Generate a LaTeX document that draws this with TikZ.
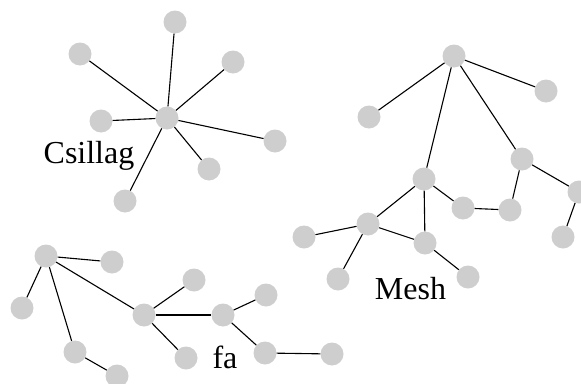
\documentclass[tikz,border=0pt]{standalone}
\usepackage{fontspec}
\setmainfont{Liberation Serif}
\definecolor{dotgray}{RGB}{207,206,207}
\begin{document}
\begin{tikzpicture}[x=1pt,y=-1pt,
  dot/.style={circle,fill=dotgray,inner sep=0pt,minimum size=23pt},
  link/.style={line width=1.1pt,black},
  caption/.style={anchor=base,inner sep=0pt,font=\fontsize{32}{38}\selectfont}]
\useasboundingbox (0,0) rectangle (581,383);
% star
\node[dot] (s0) at (167,118) {};
\node[dot] (s1) at (175,22) {};
\node[dot] (s2) at (80,54) {};
\node[dot] (s3) at (233,62) {};
\node[dot] (s4) at (101,121) {};
\node[dot] (s5) at (275,141) {};
\node[dot] (s6) at (209,169) {};
\node[dot] (s7) at (125,201) {};
\foreach \n in {s1,s2,s3,s4,s5,s6,s7} \draw[link] (s0) -- (\n);
\node[caption] (lstar) at (89,163) {Csillag};
% mesh
\node[dot] (m1) at (454,56) {};
\node[dot] (m2) at (369,117) {};
\node[dot] (m3) at (546,91) {};
\node[dot] (m4) at (424,179) {};
\node[dot] (m5) at (522,159) {};
\node[dot] (m6) at (579,192) {};
\node[dot] (m7) at (563,237) {};
\node[dot] (m8) at (463,208) {};
\node[dot] (m9) at (510,210) {};
\node[dot] (m10) at (368,224) {};
\node[dot] (m11) at (304,237) {};
\node[dot] (m12) at (425,243) {};
\node[dot] (m13) at (338,279) {};
\node[dot] (m14) at (468,277) {};
\draw[link] (m1) -- (m2);
\draw[link] (m1) -- (m3);
\draw[link] (m1) -- (m4);
\draw[link] (m1) -- (m5);
\draw[link] (m5) -- (m6);
\draw[link] (m6) -- (m7);
\draw[link] (m5) -- (m9);
\draw[link] (m9) -- (m8);
\draw[link] (m4) -- (m8);
\draw[link] (m4) -- (m10);
\draw[link] (m4) -- (m12);
\draw[link] (m10) -- (m11);
\draw[link] (m10) -- (m12);
\draw[link] (m10) -- (m13);
\draw[link] (m12) -- (m14);
\node[caption] (lmesh) at (410.5,299) {Mesh};
% tree
\node[dot] (t1) at (46,256) {};
\node[dot] (t2) at (112,262) {};
\node[dot] (t3) at (22,308) {};
\node[dot] (t4) at (75,352) {};
\node[dot] (t5) at (117,376) {};
\node[dot] (t6) at (144,315) {};
\node[dot] (t7) at (194,280) {};
\node[dot] (t8) at (186,358) {};
\node[dot] (t9) at (223,315) {};
\node[dot] (t10) at (266,295) {};
\node[dot] (t11) at (265,353) {};
\node[dot] (t12) at (332,354) {};
\draw[link] (t1) -- (t2);
\draw[link] (t1) -- (t3);
\draw[link] (t1) -- (t4);
\draw[link] (t4) -- (t5);
\draw[link] (t1) -- (t6);
\draw[link] (t6) -- (t7);
\draw[link] (t6) -- (t8);
\draw[link] (t6) -- (t9);
\draw[link] (t9) -- (t10);
\draw[link] (t9) -- (t11);
\draw[link] (t11) -- (t12);
\node[caption] (ltree) at (225,368) {fa};
\end{tikzpicture}
\end{document}
